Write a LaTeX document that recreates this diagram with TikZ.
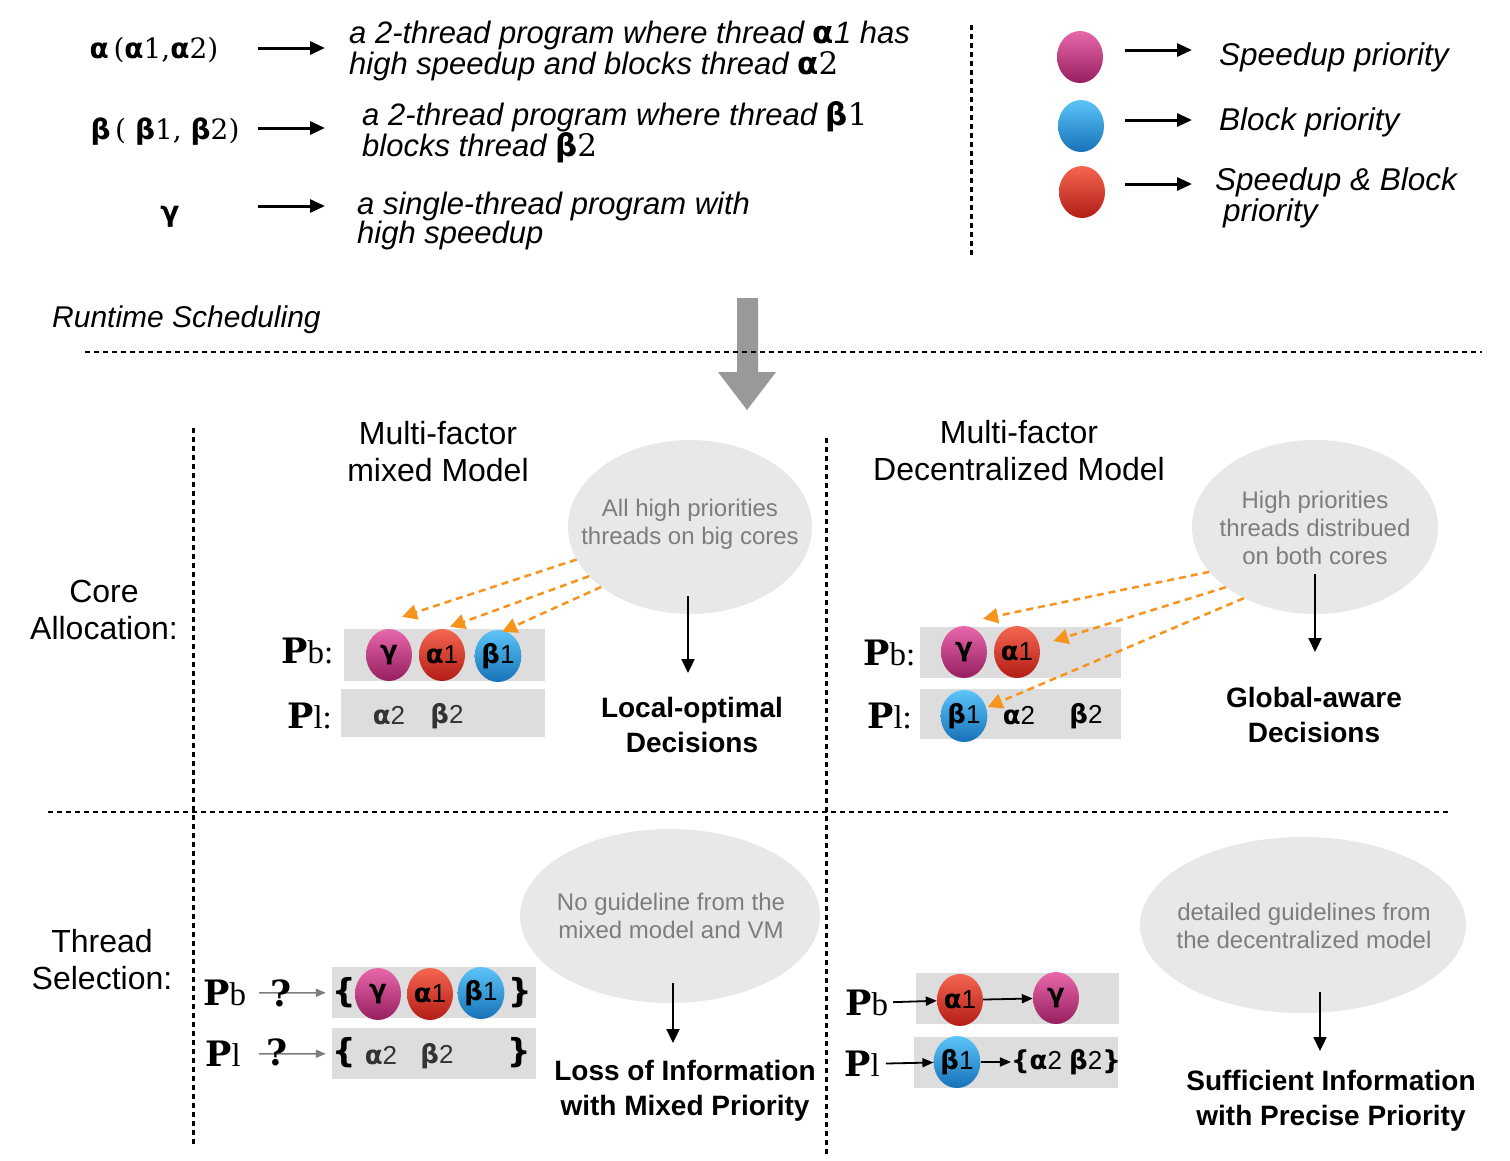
\documentclass[tikz,border=0pt]{standalone}
\usepackage{fontspec}
\setmainfont{Liberation Sans}
\newfontfamily\grkfont{DejaVu Sans}
\newfontfamily\slabfont{DejaVu Serif}
\newfontfamily\lightserif{Liberation Serif}
\usetikzlibrary{shapes.geometric, arrows.meta}
\definecolor{SpeedTop}{RGB}{232, 104, 170}
\definecolor{SpeedBot}{RGB}{150, 30, 95}
\definecolor{BlockTop}{RGB}{92, 196, 248}
\definecolor{BlockBot}{RGB}{22, 114, 184}
\definecolor{BothTop}{RGB}{245, 102, 80}
\definecolor{BothBot}{RGB}{178, 28, 22}
\definecolor{NoteFill}{RGB}{232, 232, 232}
\definecolor{NoteText}{RGB}{125, 125, 125}
\definecolor{RowFill}{RGB}{221, 221, 221}
\definecolor{HintOrange}{RGB}{247, 148, 30}
\definecolor{BigArrow}{RGB}{153, 153, 153}
\definecolor{DarkText}{RGB}{51, 51, 51}
\newcommand{\gk}[1]{{\grkfont\bfseries\upshape #1}}
\newcommand{\sr}[1]{{\slabfont\upshape #1}}
\newcommand{\Pc}[1]{{\slabfont\bfseries\fontsize{35}{35}\selectfont P}{\lightserif\fontsize{33}{33}\selectfont #1}}

\begin{document}
\begin{tikzpicture}[x=1pt, y=-1pt,
    ball/.style={ellipse, minimum width=46pt, minimum height=52pt, inner sep=0pt, font=\fontsize{26}{26}\selectfont},
    speedball/.style={ball, top color=SpeedTop, bottom color=SpeedBot},
    blockball/.style={ball, top color=BlockTop, bottom color=BlockBot},
    bothball/.style={ball, top color=BothTop, bottom color=BothBot},
    thread/.style={inner sep=0pt, font=\fontsize{26}{26}\selectfont},
    brace/.style={inner sep=0pt, font=\grkfont\bfseries\fontsize{33}{33}\selectfont},
    rowbox/.style={rectangle, fill=RowFill, inner sep=0pt},
    note/.style={ellipse, fill=NoteFill, inner sep=0pt},
    notetext/.style={align=center, text=NoteText, inner sep=0pt, font=\fontsize{24}{28}\selectfont},
    decision/.style={align=center, anchor=north, inner sep=0pt, font=\bfseries\fontsize{28}{35}\selectfont},
    heading/.style={align=center, inner sep=0pt, font=\fontsize{32}{37}\selectfont},
    desc/.style={align=left, anchor=west, inner sep=0pt, font=\itshape\fontsize{31}{28}\selectfont},
    legend/.style={align=left, anchor=west, inner sep=0pt, font=\itshape\fontsize{31.5}{27}\selectfont},
    corelbl/.style={anchor=west, inner sep=0pt, font=\fontsize{30}{30}\selectfont},
    blackarrow/.style={line width=3pt, -{Triangle[length=15pt, width=13pt]}},
    downarrow/.style={line width=2.2pt, -{Triangle[length=14pt, width=13pt]}},
    hintarrow/.style={HintOrange, line width=2.5pt, dash pattern=on 7pt off 5pt, -{Triangle[length=15pt, width=15pt]}},
    greyarrow/.style={NoteText, line width=1.6pt, -{Triangle[length=10pt, width=8pt]}},
    linkarrow/.style={line width=1.8pt, -{Triangle[length=11pt, width=9pt]}},
    vdots/.style={line width=3pt, dash pattern=on 5pt off 4pt},
    hdash/.style={line width=2.5pt, dash pattern=on 5pt off 4pt}]
    \useasboundingbox (0,0) rectangle (1510,1160);
    \fill[white] (0,0) rectangle (1510,1160);

    % Program definitions
    \node[font=\fontsize{28}{28}\selectfont] (lblA) at (154,50) {\gk{α}\,\sr{(}\gk{α}\sr{1,}\gk{α}\sr{2)}};
    \node[font=\fontsize{28}{28}\selectfont] (lblB) at (165,132) {\gk{β}\,\sr{( }\gk{β}\sr{1, }\gk{β}\sr{2)}};
    \node[font=\fontsize{28}{28}\selectfont] (lblG) at (170,217) {\gk{γ}};
    \node[desc] (descA) at (349,51) {a 2-thread program where thread \gk{α}1 has\\high speedup and blocks thread \gk{α}\sr{2}};
    \node[desc] (descB) at (362,132) {a 2-thread program where thread \gk{β}\sr{1}\\blocks thread \gk{β}\sr{2}};
    \node[desc] (descG) at (357,221) {a single-thread program with\\high speedup};
    \draw[blackarrow] ([xshift=104pt, yshift=2pt]lblA.center) -- ([xshift=-24pt, yshift=3pt]descA.west);
    \draw[blackarrow] ([xshift=93pt, yshift=4pt]lblB.center) -- ([xshift=-37pt, yshift=4pt]descB.west);
    \draw[blackarrow] ([xshift=88pt, yshift=11pt]lblG.center) -- ([xshift=-32pt, yshift=15pt]descG.west);
    \draw[vdots] (971,25) -- (971,255);

    % Priority legend
    \node[speedball] (legS) at (1080,57) {};
    \node[blockball] (legB) at (1081,126) {};
    \node[bothball] (legC) at (1082,192) {};
    \node[legend] (txtS) at (1219,57) {Speedup priority};
    \node[legend] (txtB) at (1219,122) {Block priority};
    \node[legend] (txtC) at (1215,198) {Speedup \& Block\\\hspace*{8pt}priority};
    \draw[blackarrow] ([xshift=45pt, yshift=7pt]legS.center) -- ([xshift=-27pt, yshift=7pt]txtS.west);
    \draw[blackarrow] ([xshift=44pt, yshift=6pt]legB.center) -- ([xshift=-27pt, yshift=2pt]txtB.west);
    \draw[blackarrow] ([xshift=43pt, yshift=8pt]legC.center) -- ([xshift=-23pt, yshift=14pt]txtC.west);

    % Runtime scheduling
    \node[anchor=west, inner sep=0pt, font=\itshape\fontsize{30}{30}\selectfont] (runtime) at (52,320) {Runtime Scheduling};
    \fill[BigArrow] (737,298) -- (758,298) -- (758,372) -- (776,372) -- (747,410) -- (718,372) -- (737,372) -- cycle;
    \draw[hdash] (85,352) -- (1482,352);
    \draw[vdots] (193,428) -- (193,1145);
    \draw[vdots] (826,438) -- (826,1155);
    \draw[hdash] (48,812) -- (1448,812);

    \node[heading] (mixhead) at (438,452) {Multi-factor\\mixed Model};
    \node[heading] (dechead) at (1019,451) {Multi-factor\\Decentralized Model};
    \node[heading] (corehead) at (104,610) {Core\\Allocation:};
    \node[heading] (threadhead) at (102,960) {Thread\\Selection:};

    % Core allocation, mixed model
    \node[note, minimum width=244pt, minimum height=174pt] (mixnote) at (690,527) {};
    \node[notetext] (mixnotetxt) at (690,524) {All high priorities\\threads on big cores};
    \node[rowbox, minimum width=201pt, minimum height=52pt] (mbBox) at (444.5,655) {};
    \node[rowbox, minimum width=204pt, minimum height=48pt] (mlBox) at (443,713) {};
    \node[corelbl] (mPb) at (281,651) {\Pc{b:}};
    \node[corelbl] (mPl) at (287,716) {\Pc{l:}};
    \node[speedball] (g1) at (389,655) {\gk{γ}};
    \node[bothball] (a1) at (442,655) {\gk{α}1};
    \node[blockball] (b1) at (498,656) {\gk{β}1};
    \node[thread, text=DarkText] (mA2) at (389,716) {\gk{α}2};
    \node[thread, text=DarkText] (mB2) at (447,716) {\gk{β}2};
    \node[decision] (mixdec) at (692,697) {Local-optimal\\Decisions};
    \draw[downarrow] ([xshift=-2pt, yshift=18pt]mixnote.south) -- ([xshift=-4pt, yshift=24pt]mixdec.north);
    \draw[hintarrow] (mixnote.196) -- ([shift={(13pt,12pt)}]g1.north);
    \draw[hintarrow] (mixnote.206) -- ([shift={(8pt,2pt)}]a1.north);
    \draw[hintarrow] (mixnote.214) -- ([shift={(4pt,-2pt)}]b1.north);

    % Core allocation, decentralized model
    \node[note, minimum width=246pt, minimum height=174pt] (decnote) at (1315,527) {};
    \node[notetext] (decnotetxt) at (1315,528) {High priorities\\threads distribued\\on both cores};
    \node[rowbox, minimum width=201pt, minimum height=51pt] (dbBox) at (1020.5,652.5) {};
    \node[rowbox, minimum width=201pt, minimum height=50pt] (dlBox) at (1020.5,714) {};
    \node[corelbl] (dPb) at (863,653) {\Pc{b:}};
    \node[corelbl] (dPl) at (867,716) {\Pc{l:}};
    \node[speedball] (g2) at (964,652) {\gk{γ}};
    \node[bothball] (a2) at (1017,652) {\gk{α}1};
    \node[blockball] (b2) at (964,716) {\gk{β}1};
    \node[thread] (dA2) at (1019,716) {\gk{α}2};
    \node[thread] (dB2) at (1086,716) {\gk{β}2};
    \node[decision] (decdec) at (1314,687) {Global-aware\\Decisions};
    \draw[downarrow] ([yshift=40pt]decnote.south) -- ([xshift=1pt, yshift=35pt]decdec.north);
    \draw[hintarrow] (decnote.203) -- ([shift={(19pt,7pt)}]g2.north);
    \draw[hintarrow] (decnote.214) -- ([shift={(13pt,11pt)}]a2.east);
    \draw[hintarrow] (decnote.225) -- ([shift={(0pt,9pt)}]b2.east);

    % Thread selection, mixed model
    \node[note, minimum width=300pt, minimum height=174pt] (nognote) at (670,916) {};
    \node[notetext] (nognotetxt) at (671,916) {No guideline from the\\mixed model and VM};
    \node[rowbox, minimum width=204pt, minimum height=51pt] (sbBox) at (434,992.5) {};
    \node[rowbox, minimum width=204pt, minimum height=51pt] (slBox) at (434,1053.5) {};
    \node[corelbl] (sPb) at (203,993) {\Pc{b}};
    \node[corelbl] (sPl) at (205,1054) {\Pc{l}};
    \draw[greyarrow, shorten <=13pt, shorten >=6pt] (sPb) -- (sbBox);
    \draw[greyarrow, shorten <=18pt, shorten >=6pt] (sPl) -- (slBox);
    \node[inner sep=0pt, font=\slabfont\bfseries\fontsize{36}{36}\selectfont] (sQb) at (281,993) {?};
    \node[inner sep=0pt, font=\slabfont\bfseries\fontsize{36}{36}\selectfont] (sQl) at (277,1052) {?};
    \node[brace] (sbL) at (344,993) {\{};
    \node[speedball] (g3) at (378,994) {\gk{γ}};
    \node[bothball] (a3) at (430,994) {\gk{α}1};
    \node[blockball] (b3) at (481,993) {\gk{β}1};
    \node[brace] (sbR) at (520,993) {\}};
    \node[brace] (slL) at (344,1053) {\{};
    \node[thread, text=DarkText] (sA2) at (381,1056) {\gk{α}2};
    \node[thread, text=DarkText] (sB2) at (437,1056) {\gk{β}2};
    \node[brace] (slR) at (519,1053) {\}};
    \node[decision] (nogdec) at (685,1060) {Loss of Information\\with Mixed Priority};
    \draw[downarrow] ([xshift=3pt, yshift=20pt]nognote.south) -- ([xshift=-12pt, yshift=17pt]nogdec.north);

    % Thread selection, decentralized model
    \node[note, minimum width=326pt, minimum height=176pt] (detnote) at (1303,925) {};
    \node[notetext] (detnotetxt) at (1304,926) {detailed guidelines from\\the decentralized model};
    \node[rowbox, minimum width=203pt, minimum height=51pt] (pbBox) at (1017.5,998.5) {};
    \node[rowbox, minimum width=204pt, minimum height=51pt] (plBox) at (1016,1062.5) {};
    \node[corelbl] (rPb) at (845,1003) {\Pc{b}};
    \node[corelbl] (rPl) at (844,1064) {\Pc{l}};
    \node[bothball] (a4) at (960,1000) {\gk{α}1};
    \node[speedball] (g4) at (1056,998) {\gk{γ}};
    \node[blockball] (b4) at (957,1062) {\gk{β}1};
    \node[thread] (rSet) at (1066,1062) {\gk{\{α}2 \gk{β}2\gk{\}}};
    \draw[linkarrow, shorten <=5pt] (rPb) -- (a4);
    \draw[linkarrow] (a4) -- (g4);
    \draw[linkarrow, shorten <=6pt] (rPl) -- (b4);
    \draw[linkarrow] (b4) -- (rSet);
    \node[decision] (detdec) at (1331,1070) {Sufficient Information\\with Precise Priority};
    \draw[downarrow] ([xshift=17pt, yshift=21pt]detnote.south) -- ([xshift=-11pt, yshift=19pt]detdec.north);
\end{tikzpicture}
\end{document}
